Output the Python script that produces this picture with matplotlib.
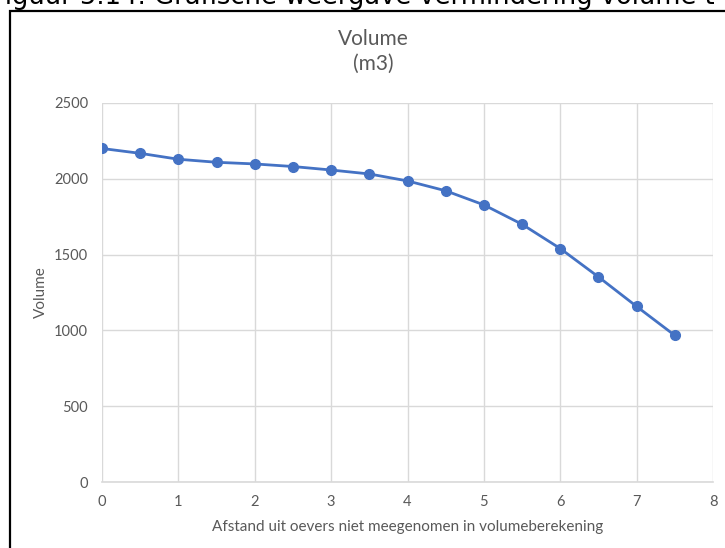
import matplotlib
matplotlib.use("Agg")
import matplotlib.pyplot as plt
from matplotlib.patches import Rectangle

# Volume that remains when a strip along the banks is left out of the calculation
afstand = [0, 0.5, 1, 1.5, 2, 2.5, 3, 3.5, 4, 4.5, 5, 5.5, 6, 6.5, 7, 7.5]
volume = [2200, 2168, 2129, 2109, 2098, 2081, 2058, 2032, 1986, 1921,
          1828, 1700, 1540, 1353, 1158, 967]

x_ticks = [0, 1, 2, 3, 4, 5, 6, 7, 8]
y_ticks = [0, 500, 1000, 1500, 2000, 2500]

W, H = 725, 548
TEXT = "#595959"
GRID = "#d9d9d9"
BLUE = "#4472C4"

plt.rcParams["font.family"] = ["Lato", "DejaVu Sans"]

fig = plt.figure(figsize=(W / 100, H / 100), dpi=100)
fig.patch.set_facecolor("white")


def fx(px):
    return px / W


def fy(py):
    return 1 - py / H


# caption line above the chart frame (only its lower part fits on the page)
fig.text(fx(-8), fy(4), "Figuur 5.14: Grafische weergave vermindering volume t",
         fontsize=18.5, color="black", family=["DejaVu Sans"],
         ha="left", va="baseline")

# chart frame
fig.patches.append(Rectangle((fx(9.5), fy(560)), fx(800), fy(11) - fy(560),
                             transform=fig.transFigure, fill=False,
                             edgecolor="black", linewidth=1.6, zorder=5))

ax = fig.add_axes([fx(102), fy(482), fx(713) - fx(102), fy(103) - fy(482)])
ax.plot(afstand, volume, color=BLUE, linewidth=2.0, marker="o",
        markersize=7, markerfacecolor=BLUE, markeredgecolor=BLUE, zorder=3)

ax.set_xlim(0, 8)
ax.set_ylim(0, 2500)
ax.set_xticks(x_ticks)
ax.set_yticks(y_ticks)
ax.grid(True, color=GRID, linewidth=1.0)
ax.set_axisbelow(True)
for side in ("top", "right", "left"):
    ax.spines[side].set_visible(False)
ax.spines["bottom"].set_color(GRID)
ax.spines["bottom"].set_linewidth(1.2)
ax.tick_params(axis="both", length=0, labelsize=10.5, labelcolor=TEXT)
ax.tick_params(axis="x", pad=9)
ax.tick_params(axis="y", pad=10)

ax.set_xlabel("Afstand uit oevers niet meegenomen in volumeberekening",
              fontsize=11, color=TEXT, labelpad=8)
ax.set_ylabel("Volume", fontsize=11, color=TEXT, labelpad=4)

fig.text(fx(373), fy(39), "Volume", fontsize=15, color=TEXT,
         ha="center", va="center")
fig.text(fx(373), fy(64), "(m3)", fontsize=15, color=TEXT,
         ha="center", va="center")

fig.savefig("out.png", dpi=100, facecolor="white")
